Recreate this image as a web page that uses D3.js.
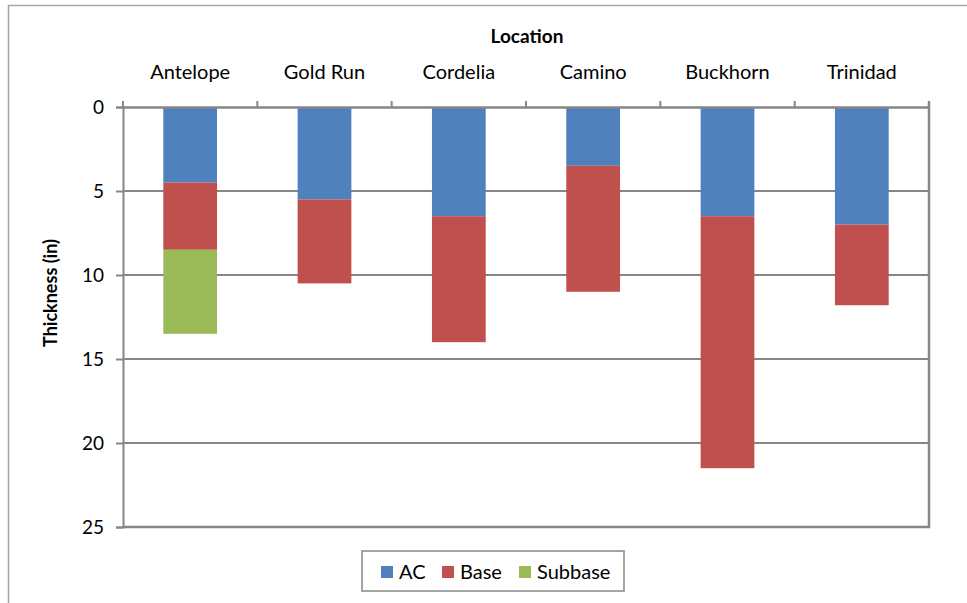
<!DOCTYPE html>
<html>
<head>
<meta charset="utf-8">
<script src="https://cdn.jsdelivr.net/npm/d3@7"></script>
<style>
  html, body { margin: 0; padding: 0; background: #fff; }
  svg { display: block; }
  text { font-family: Lato, "Open Sans", sans-serif; fill: #000; }
</style>
</head>
<body>
<svg id="chart" width="967" height="603"></svg>
<script>
// Pavement layer thickness by site (inches)
const locations = ["Antelope", "Gold Run", "Cordelia", "Camino", "Buckhorn", "Trinidad"];
const layers = ["AC", "Base", "Subbase"];
const acThickness = [4.5, 5.5, 6.5, 3.5, 6.5, 7];
const baseThickness = [4, 5, 7.5, 7.5, 15, 4.8];
const subbaseThickness = [5, 0, 0, 0, 0, 0];
const yTicks = [0, 5, 10, 15, 20, 25];
const layerColors = ["#4F81BD", "#C0504D", "#9BBB59"];

const rows = locations.map((loc, i) => ({
  location: loc,
  AC: acThickness[i],
  Base: baseThickness[i],
  Subbase: subbaseThickness[i]
}));

const svg = d3.select("#chart");
const plot = { left: 123, right: 929, top: 107, bottom: 527 };
const axisColor = "#868686";

// Outer chart frame
svg.append("rect")
  .attr("x", 8.5).attr("y", 5.5)
  .attr("width", 1000).attr("height", 700)
  .attr("fill", "#fff").attr("stroke", "#a6a6a6").attr("stroke-width", 1.5);

const x = d3.scaleBand().domain(locations).range([plot.left, plot.right])
  .paddingInner(0.6).paddingOuter(0.3);
const xCat = d3.scaleBand().domain(locations).range([plot.left, plot.right]);
const y = d3.scaleLinear().domain([0, 25]).range([plot.top, plot.bottom]);

// Horizontal gridlines
svg.append("g").selectAll("line").data(yTicks.slice(1, -1)).join("line")
  .attr("x1", plot.left).attr("x2", plot.right)
  .attr("y1", d => y(d)).attr("y2", d => y(d))
  .attr("stroke", axisColor).attr("stroke-width", 2);

// Stacked bars, growing downward from the top axis
const stack = d3.stack().keys(layers)(rows);
const color = d3.scaleOrdinal().domain(layers).range(layerColors);
svg.append("g").selectAll("g").data(stack).join("g")
  .attr("fill", d => color(d.key))
  .selectAll("rect").data(d => d.filter(s => s[1] > s[0])).join("rect")
  .attr("x", d => x(d.data.location))
  .attr("width", x.bandwidth())
  .attr("y", d => y(d[0]))
  .attr("height", d => y(d[1]) - y(d[0]));

// Plot area frame (right and bottom edges)
svg.append("path")
  .attr("d", `M${plot.right},${plot.top - 6}V${plot.bottom}H${plot.left}`)
  .attr("fill", "none").attr("stroke", axisColor).attr("stroke-width", 2.5);

// Left value axis
const yAxis = svg.append("g")
  .attr("transform", `translate(${plot.left},0)`)
  .call(d3.axisLeft(y).tickValues(yTicks).tickSize(7).tickPadding(12));
yAxis.select(".domain").attr("stroke", axisColor).attr("stroke-width", 2);
yAxis.selectAll(".tick line").attr("stroke", axisColor).attr("stroke-width", 2);
yAxis.selectAll(".tick text").style("font-size", "19px").attr("fill", "#000")
  .style("font-family", "Lato, sans-serif");

// Top category axis
const xAxis = svg.append("g")
  .attr("transform", `translate(0,${plot.top})`)
  .call(d3.axisTop(xCat).tickSize(0).tickPadding(28));
xAxis.select(".domain").attr("stroke", axisColor).attr("stroke-width", 2.5);
xAxis.selectAll(".tick text").style("font-size", "20px").attr("fill", "#000")
  .style("font-family", "Lato, sans-serif");
svg.append("g").selectAll("line")
  .data(locations.map(l => xCat(l)).concat([plot.right]))
  .join("line")
  .attr("x1", d => d).attr("x2", d => d)
  .attr("y1", plot.top - 6).attr("y2", plot.top)
  .attr("stroke", axisColor).attr("stroke-width", 2);

// Axis titles
svg.append("text")
  .attr("x", (plot.left + plot.right) / 2 + 1).attr("y", 43)
  .attr("text-anchor", "middle")
  .style("font-size", "19px").style("font-weight", "bold")
  .text("Location");
svg.append("text")
  .attr("transform", "translate(57,293) rotate(-90)")
  .attr("text-anchor", "middle")
  .style("font-size", "18px").style("font-weight", "bold")
  .text("Thickness (in)");

// Legend
const legend = svg.append("g");
legend.append("rect")
  .attr("x", 362).attr("y", 551).attr("width", 262).attr("height", 40)
  .attr("fill", "#fff").attr("stroke", axisColor).attr("stroke-width", 1.5);
const legendX = [381, 442, 519];
const items = legend.selectAll("g.item").data(layers).join("g")
  .attr("class", "item")
  .attr("transform", (d, i) => `translate(${legendX[i]},566)`);
items.append("rect").attr("width", 12).attr("height", 12).attr("fill", d => color(d));
items.append("text").attr("x", 18).attr("y", 13)
  .style("font-size", "20px").text(d => d);
</script>
</body>
</html>
